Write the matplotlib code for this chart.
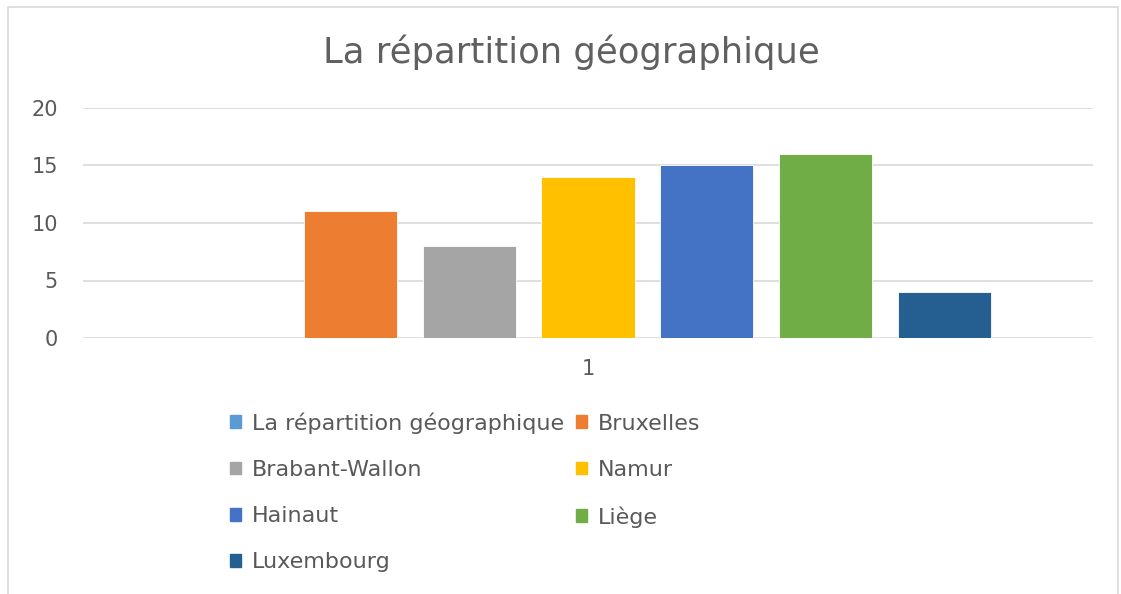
import numpy as np
import matplotlib.pyplot as plt
from matplotlib.patches import Rectangle

# data
categories = ['1']
series = ['La répartition géographique', 'Bruxelles', 'Brabant-Wallon', 'Namur',
          'Hainaut', 'Liège', 'Luxembourg']
values = [0, 11, 8, 14, 15, 16, 4]
colors = ['#5b9bd5', '#ed7d31', '#a5a5a5', '#ffc000', '#4472c4', '#70ad47', '#255e91']
yticks = [0, 5, 10, 15, 20]

plt.rcParams['font.family'] = ['DejaVu Sans']
txt = '#595959'

fig = plt.figure(figsize=(11.21, 5.94), dpi=100)
# chart border
fig.patches.append(Rectangle((8 / 1121, -0.1), (1118 - 8) / 1121, 1.1 - 7 / 594,
                             transform=fig.transFigure, fill=False,
                             edgecolor='#d9d9d9', linewidth=1.2))

ax = fig.add_axes([83 / 1121, 1 - 338 / 594, (1093 - 83) / 1121, (338 - 108) / 594])

x = np.arange(len(categories))
step = 0.1178
width = 0.0921
for i, (name, v, c) in enumerate(zip(series, values, colors)):
    ax.bar(x + (i - 3) * step, [v], width, color=c, edgecolor='white',
           linewidth=0.6, label=name, zorder=3)

ax.set_xlim(-0.5, 0.5)
ax.set_ylim(0, 20)
ax.set_yticks(yticks)
ax.set_xticks(x)
ax.set_xticklabels(categories)
ax.grid(axis='y', color='#d9d9d9', linewidth=1.2, zorder=0)
for s in ax.spines.values():
    s.set_visible(False)
ax.tick_params(length=0, labelsize=15, colors=txt)
ax.tick_params(axis='x', pad=15)
ax.tick_params(axis='y', pad=18)

fig.text(571 / 1121, 1 - 52 / 594, 'La répartition géographique', ha='center',
         va='center', fontsize=25.5, color='#606060')

# legend, Excel fills row by row
order = [0, 2, 4, 6, 1, 3, 5]
handles = [Rectangle((0, 0), 1, 1, color=colors[i]) for i in order]
labels = [series[i] for i in order]
fig.legend(handles, labels, loc='upper left', bbox_to_anchor=(219 / 1121, 1 - 401 / 594),
           ncol=2, frameon=False, fontsize=16, labelcolor=txt,
           handlelength=0.5, handleheight=0.5, handletextpad=0.5,
           labelspacing=1.18, columnspacing=0.5, borderpad=0)

fig.savefig('out.png', dpi=100)
